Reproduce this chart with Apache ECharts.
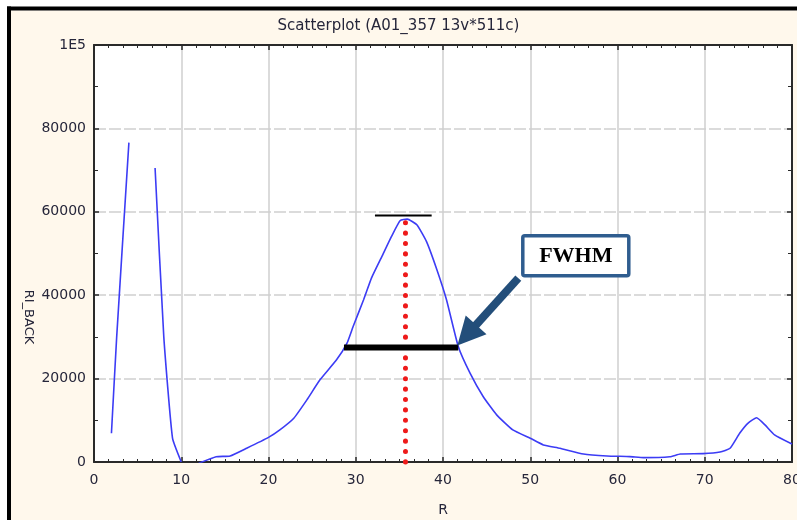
<!DOCTYPE html>
<html>
<head>
<meta charset="utf-8">
<script src="https://cdn.jsdelivr.net/npm/echarts@6/dist/echarts.min.js"></script>
<style>
html,body{margin:0;padding:0;background:#fff;}
#chart{width:797px;height:520px;}
</style>
</head>
<body>
<div id="chart"></div>
<script>
// ---- data ----
const rValues = [2, 2.6, 4, 5.5, 7, 8, 9, 10, 11, 12, 14, 15.6, 17.5, 20, 21.3, 22.9, 24.4, 25.9, 27.8, 29, 29.7, 30.9, 31.8, 33, 34.1, 35.1, 35.9, 37, 38.1, 39.3, 40.4, 41.75, 43.1, 44.6, 46.15, 48, 50, 51.5, 53.4, 56.1, 58.8, 61.4, 63, 66, 67.2, 69.8, 71.75, 72.9, 74, 75, 75.95, 76.9, 78, 80];
const riBack = [6900, 30000, 76600, null, 70500, 30000, 5700, 0, null, -300, 1250, 1450, 3300, 5900, 7700, 10500, 14900, 19700, 24500, 28500, 32500, 38900, 44100, 49300, 54100, 57900, 58250, 56900, 52900, 46100, 38900, 27700, 21300, 15700, 11300, 7700, 5700, 4100, 3300, 1900, 1450, 1300, 1050, 1270, 1900, 2000, 2400, 3300, 6900, 9400, 10600, 8900, 6500, 4300];

const yTicks = [0, 20000, 40000, 60000, 80000, 100000];
const yTickLabels = ['0', '20000', '40000', '60000', '80000', '1E5'];

// annotations (data coordinates)
const peakR = 35.7;
const peakDotted = [57400, -400];
const peakCapR = [32.2, 38.7];
const peakCapY = 59100;
const fwhmR = [28.65, 41.75];
const fwhmY = 27430;
const arrowFrom = [48.63, 44090];
const arrowTo = [42.72, 30400];
const boxAt = [55.22, 49490];
const boxText = 'FWHM';

const titleText = 'Scatterplot (A01_357 13v*511c)';
const xName = 'R';
const yName = 'RI_BACK';

// ---- chart ----
const FONT = 'DejaVu Sans';
const TXT = '#26263a';
const AX = '#2a2a2a';
const chart = echarts.init(document.getElementById('chart'), null, {renderer: 'canvas'});

const axisCommon = {
  axisLine: {show: true, onZero: false, lineStyle: {color: AX, width: 2}},
  axisTick: {show: true, inside: true, length: 5, lineStyle: {color: AX, width: 1.5}},
};

function buildGraphic(bp) {
  const g = [
    {id: 'bg', type: 'rect', z: -10, shape: {x: 11, y: 10.5, width: 790, height: 515}, style: {fill: '#fff8ec'}},
    {id: 'bt', type: 'rect', z: -9, shape: {x: 7, y: 6.5, width: 795, height: 4}, style: {fill: '#000'}},
    {id: 'bl', type: 'rect', z: -9, shape: {x: 7, y: 6.5, width: 4, height: 520}, style: {fill: '#000'}},
    {id: 'yname', type: 'text', z: 5, x: 28, y: 317, rotation: -Math.PI / 2,
     style: {text: yName, fontFamily: FONT, fontSize: 13, fill: TXT, align: 'center', verticalAlign: 'middle'}}
  ];
  if (bp && isFinite(bp[0]) && isFinite(bp[1])) {
    g.push({
      id: 'fwhmBox', type: 'group', x: bp[0], y: bp[1], z: 20,
      children: [
        {type: 'rect', shape: {x: -53, y: -20, width: 106, height: 40, r: 2},
         style: {fill: '#ffffff', stroke: '#2f5d8f', lineWidth: 3.5}},
        {type: 'text', x: 0, y: 1,
         style: {text: boxText, fontFamily: 'Liberation Serif', fontWeight: 'bold', fontSize: 22,
                 fill: '#000', align: 'center', verticalAlign: 'middle'}}
      ]
    });
  }
  return g;
}

chart.setOption({
  backgroundColor: '#ffffff',
  animation: false,
  title: {
    text: titleText, left: 'center', top: 14,
    textStyle: {fontFamily: FONT, fontSize: 15, fontWeight: 'normal', color: TXT}
  },
  graphic: buildGraphic(null),
  grid: {left: 94, right: 5, top: 45, bottom: 58, show: true, backgroundColor: '#ffffff', borderWidth: 0,
         containLabel: false, outerBoundsMode: 'none'},
  xAxis: [
    Object.assign({
      type: 'value', min: 0, max: 80, interval: 10, position: 'bottom',
      name: xName, nameLocation: 'middle', nameGap: 41,
      nameTextStyle: {fontFamily: FONT, fontSize: 14, color: TXT},
      minorTick: {show: true, splitNumber: 6, length: 3, lineStyle: {color: AX, width: 1}},
      axisLabel: {fontFamily: FONT, fontSize: 14, color: TXT, margin: 11},
      splitLine: {show: true, lineStyle: {color: '#cfcfcf', width: 1.5}}
    }, axisCommon),
    Object.assign({
      type: 'value', min: 0, max: 80, interval: 10, position: 'top',
      minorTick: {show: true, splitNumber: 6, length: 3, lineStyle: {color: AX, width: 1}},
      axisLabel: {show: false}, splitLine: {show: false}
    }, axisCommon)
  ],
  yAxis: [
    Object.assign({
      type: 'value', min: 0, max: 100000, interval: 20000, position: 'left',
      minorTick: {show: true, splitNumber: 2, length: 4, lineStyle: {color: AX, width: 1}},
      axisLabel: {fontFamily: FONT, fontSize: 14, color: TXT, margin: 8,
        formatter: function (v) { const i = yTicks.indexOf(v); return i >= 0 ? yTickLabels[i] : String(v); }},
      splitLine: {show: true, lineStyle: {color: '#cfcfcf', width: 1.5, type: [12, 3]}}
    }, axisCommon),
    Object.assign({
      type: 'value', min: 0, max: 100000, interval: 20000, position: 'right',
      minorTick: {show: true, splitNumber: 2, length: 4, lineStyle: {color: AX, width: 1}},
      axisLabel: {show: false}, splitLine: {show: false}
    }, axisCommon)
  ],
  series: [
    {
      type: 'line', name: yName, z: 3, clip: true, connectNulls: false,
      data: rValues.map((r, i) => [r, riBack[i]]),
      symbol: 'none', silent: true, smooth: 0.15,
      lineStyle: {color: '#3c3cf5', width: 1.6}
    },
    {
      type: 'line', z: 4, clip: false, symbol: 'none', silent: true,
      data: [[peakR, peakDotted[0]], [peakR, peakDotted[1]]],
      lineStyle: {color: '#ee1a1a', width: 5, type: [0.1, 10.3], cap: 'round'}
    },
    {
      type: 'line', z: 4, symbol: 'none', silent: true,
      data: [[peakCapR[0], peakCapY], [peakCapR[1], peakCapY]],
      lineStyle: {color: '#000', width: 2}
    },
    {
      type: 'line', z: 5, symbol: 'none', silent: true,
      data: [[fwhmR[0], fwhmY], [fwhmR[1], fwhmY]],
      lineStyle: {color: '#000', width: 6}
    },
    {
      type: 'lines', coordinateSystem: 'cartesian2d', z: 6, silent: true,
      symbol: ['none', 'triangle'], symbolSize: 28,
      data: [{coords: [arrowFrom, arrowTo]}],
      lineStyle: {color: '#234e7a', width: 8, opacity: 1, curveness: 0}
    }
  ]
});

// FWHM label box, placed through the chart's own scales
let bp = chart.convertToPixel({xAxisIndex: 0, yAxisIndex: 0}, boxAt);
if (!bp || !isFinite(bp[0])) bp = chart.convertToPixel({seriesIndex: 0}, boxAt);
chart.setOption({graphic: buildGraphic(bp)}, {replaceMerge: ['graphic']});
</script>
</body>
</html>
